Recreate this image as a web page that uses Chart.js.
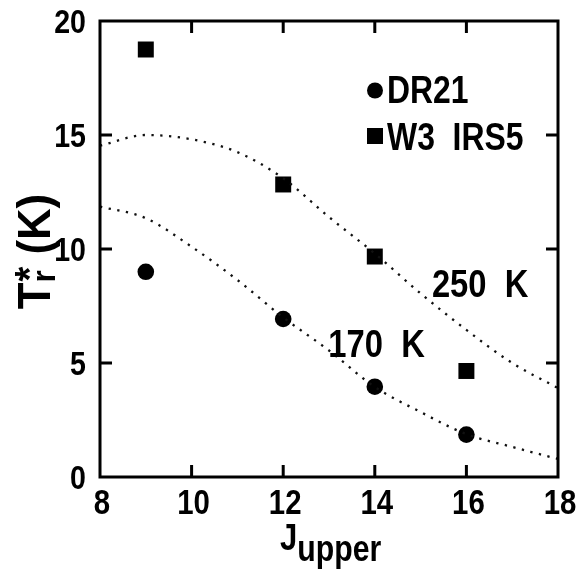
<!DOCTYPE html>
<html><head><meta charset="utf-8">
<script src="https://cdn.jsdelivr.net/npm/chart.js@4"></script>
<style>html,body{margin:0;padding:0;background:#fff}#wrap{width:576px;height:574px;position:relative}</style>
</head><body>
<div id="wrap"><canvas id="c"></canvas></div>
<script>
// ---- data ----
const jUpper = [9, 12, 14, 16];
const dr21 = [9.0, 6.93, 3.96, 1.86];
const w3irs5 = [18.75, 12.83, 9.67, 4.65];
const modelJ = [8, 9, 10, 11, 12, 13, 14, 15, 16, 17, 18];
const model250 = [14.53, 15.0, 14.81, 14.25, 13.1, 11.4, 9.8, 8.05, 6.45, 5.0, 3.9];
const model170 = [11.86, 11.35, 10.1, 8.64, 7.0, 5.55, 3.95, 2.85, 1.88, 1.32, 0.79];
const xTicks = [8, 10, 12, 14, 16, 18];
const yTicks = [0, 5, 10, 15, 20];
const legendLabels = ['DR21', 'W3  IRS5'];
const curveLabels = [{text: '250  K', x: 16.3, y: 7.9}, {text: '170  K', x: 14.04, y: 5.26}];

const FONT = '"Liberation Sans", Arial, Helvetica, sans-serif';
const SX = 0.84;
const pts = (xs, ys) => xs.map((x, i) => ({x, y: ys[i]}));

function txt(ctx, t, x, y, size, align, sx) {
  sx = sx || SX;
  ctx.save();
  ctx.font = 'bold ' + size + 'px ' + FONT;
  ctx.textBaseline = 'alphabetic';
  const w = ctx.measureText(t).width * sx;
  let x0 = x;
  if (align === 'center') x0 = x - w / 2;
  else if (align === 'right') x0 = x - w;
  ctx.translate(x0, y);
  ctx.scale(sx, 1);
  ctx.fillText(t, 0, 0);
  ctx.restore();
  return w;
}
function tw(ctx, t, size, sx) {
  sx = sx || SX;
  ctx.save(); ctx.font = 'bold ' + size + 'px ' + FONT;
  const w = ctx.measureText(t).width * sx; ctx.restore(); return w;
}

const framePlugin = {
  id: 'frame',
  afterDraw(chart) {
    const ctx = chart.ctx, a = chart.chartArea;
    const xs = chart.scales.x, ys = chart.scales.y;
    ctx.save();
    ctx.strokeStyle = '#000';
    ctx.fillStyle = '#000';
    ctx.lineWidth = 3;
    ctx.strokeRect(a.left, a.top, a.right - a.left, a.bottom - a.top);
    const L = 12;
    ctx.beginPath();
    xTicks.slice(1, -1).forEach(v => {
      const px = xs.getPixelForValue(v);
      ctx.moveTo(px, a.bottom); ctx.lineTo(px, a.bottom - L);
      ctx.moveTo(px, a.top); ctx.lineTo(px, a.top + L);
    });
    yTicks.slice(1, -1).forEach(v => {
      const py = ys.getPixelForValue(v);
      ctx.moveTo(a.left, py); ctx.lineTo(a.left + L, py);
      ctx.moveTo(a.right, py); ctx.lineTo(a.right - L, py);
    });
    ctx.stroke();

    // tick labels
    xTicks.forEach(v => txt(ctx, String(v), xs.getPixelForValue(v) + 2, 514, 35, 'center'));
    yTicks.forEach(v => txt(ctx, String(v), 86, ys.getPixelForValue(v) + 12, 34, 'right'));

    // legend
    ctx.beginPath(); ctx.arc(375, 90.5, 8, 0, Math.PI * 2); ctx.fill();
    txt(ctx, legendLabels[0], 387, 103, 38, 'left');
    ctx.fillRect(367, 128, 16, 16);
    txt(ctx, legendLabels[1], 387, 150, 38, 'left');

    // curve labels
    curveLabels.forEach(c => txt(ctx, c.text, xs.getPixelForValue(c.x), ys.getPixelForValue(c.y), 39, 'center'));

    // x title: J_upper
    const wJ = tw(ctx, 'J', 37);
    const x0 = 280;
    txt(ctx, 'J', x0, 550, 37, 'left');
    txt(ctx, 'upper', x0 + wJ, 561, 36, 'left');

    // y title: T_r* (K)
    const S = 0.95;
    ctx.translate(50, 252);
    ctx.rotate(-Math.PI / 2);
    const wT = tw(ctx, 'T', 46, S), wr = tw(ctx, 'r', 33, S), ws = tw(ctx, '*', 40, S), wK = tw(ctx, ' (K)', 46, S);
    const tot = wT + Math.max(wr, ws) + wK;
    let cx = -tot / 2;
    txt(ctx, 'T', cx, 0, 46, 'left', S); cx += wT;
    txt(ctx, 'r', cx, 5, 33, 'left', S);
    txt(ctx, '*', cx + 1, -7, 40, 'left', S);
    cx += Math.max(wr, ws) + 1;
    txt(ctx, ' (K)', cx, 0, 46, 'left', S);
    ctx.restore();
  }
};

new Chart(document.getElementById('c'), {
  type: 'scatter',
  data: {
    datasets: [
      {label: '250 K', type: 'line', data: pts(modelJ, model250), borderColor: '#111', borderWidth: 2.3,
       borderDash: [2.3, 6.5], pointRadius: 0, fill: false, cubicInterpolationMode: 'monotone'},
      {label: '170 K', type: 'line', data: pts(modelJ, model170), borderColor: '#111', borderWidth: 2.3,
       borderDash: [2.3, 6.5], pointRadius: 0, fill: false, cubicInterpolationMode: 'monotone'},
      {label: 'DR21', data: pts(jUpper, dr21), pointStyle: 'circle', pointRadius: 8.3,
       backgroundColor: '#000', borderColor: '#000', borderWidth: 0},
      {label: 'W3 IRS5', data: pts(jUpper, w3irs5), pointStyle: 'rect', pointRadius: 11.3,
       backgroundColor: '#000', borderColor: '#000', borderWidth: 0}
    ]
  },
  options: {
    responsive: true, maintainAspectRatio: false, animation: false,
    layout: {padding: {top: 21, right: 18, left: 0, bottom: 0}},
    plugins: {legend: {display: false}, tooltip: {enabled: false}},
    scales: {
      x: {type: 'linear', min: 8, max: 18,
        afterBuildTicks: s => { s.ticks = xTicks.map(v => ({value: v})); },
        afterFit: s => { s.height = 97; },
        grid: {display: false, drawTicks: false}, border: {display: false},
        ticks: {display: false}},
      y: {type: 'linear', min: 0, max: 20,
        afterBuildTicks: s => { s.ticks = yTicks.map(v => ({value: v})); },
        afterFit: s => { s.width = 100; },
        grid: {display: false, drawTicks: false}, border: {display: false},
        ticks: {display: false}}
    }
  },
  plugins: [framePlugin]
});
</script>
</body></html>
